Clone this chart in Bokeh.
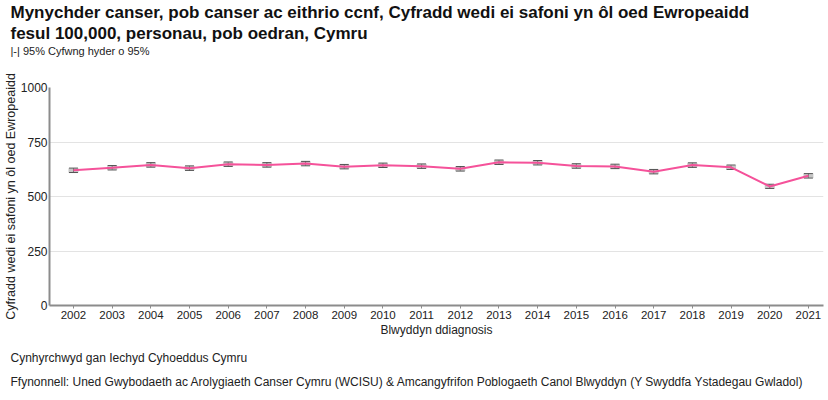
from bokeh.plotting import figure
from bokeh.models import (ColumnDataSource, Range1d, FixedTicker, Title, Whisker, TeeHead)
from bokeh.embed import file_html
from bokeh.resources import INLINE

years = list(range(2002, 2022))
rate = [620, 632, 645, 630, 648, 645, 651, 637, 643, 639, 627, 657, 655, 640, 638, 614, 644, 634, 546, 595]
lower = [610, 622, 635, 620, 638, 635, 641, 627, 633, 629, 617, 647, 645, 630, 628, 604, 634, 624, 537, 585]
upper = [630, 642, 655, 640, 658, 655, 661, 647, 653, 649, 637, 667, 665, 650, 648, 624, 654, 644, 556, 605]
y_ticks = [0, 250, 500, 750, 1000]

title1 = "Mynychder canser, pob canser ac eithrio ccnf, Cyfradd wedi ei safoni yn ôl oed Ewropeaidd"
title2 = "fesul 100,000, personau, pob oedran, Cymru"
subtitle = "|-| 95% Cyfwng hyder o 95%"
x_label = "Blwyddyn ddiagnosis"
y_label = "Cyfradd wedi ei safoni yn ôl oed Ewropeaidd"
foot1 = "Cynhyrchwyd gan Iechyd Cyhoeddus Cymru"
foot2 = "Ffynonnell: Uned Gwybodaeth ac Arolygiaeth Canser Cymru (WCISU) & Amcangyfrifon Poblogaeth Canol Blwyddyn (Y Swyddfa Ystadegau Gwladol)"

FONT = "Liberation Sans"
LEFT = 47
TX = 8 - LEFT

src = ColumnDataSource(dict(x=years, y=rate, lo=lower, hi=upper,
                            mid=[(a + b) / 2 for a, b in zip(lower, upper)],
                            h=[b - a for a, b in zip(lower, upper)]))

p = figure(width=828, height=400, output_backend="svg", toolbar_location=None,
           x_range=Range1d(2001.38, 2021.39), y_range=Range1d(0, 1000),
           min_border_left=LEFT, min_border_right=5, min_border_top=87, min_border_bottom=95)
p.outline_line_color = None
p.background_fill_color = "white"

# header stack (first added sits next to the plot frame)
p.add_layout(Title(text=" ", text_font=FONT, text_font_size="1px", standoff=27.5), "above")
p.add_layout(Title(text=subtitle, text_font=FONT, text_font_size="11px", text_font_style="normal",
                   text_color="#222222", offset=TX, standoff=-1.2), "above")
p.add_layout(Title(text=title2, text_font=FONT, text_font_size="17px", text_font_style="bold",
                   text_color="#111111", offset=TX, standoff=0.6), "above")
p.add_layout(Title(text=title1, text_font=FONT, text_font_size="17px", text_font_style="bold",
                   text_color="#111111", offset=TX, standoff=0), "above")

p.add_layout(Title(text=foot1, text_font=FONT, text_font_size="12px", text_font_style="normal",
                   text_color="#222222", offset=TX, standoff=18), "below")
p.add_layout(Title(text=foot2, text_font=FONT, text_font_size="12px", text_font_style="normal",
                   text_color="#222222", offset=TX, standoff=-2), "below")

p.rect(x="x", y="mid", width=10, width_units="screen", height="h", source=src,
       fill_color="#a0a0a0", fill_alpha=0.6, line_color=None)
w = Whisker(base="x", lower="lo", upper="hi", source=src, line_color="#333333", line_width=1,
            upper_head=TeeHead(size=9, line_color="#333333", line_width=1),
            lower_head=TeeHead(size=9, line_color="#333333", line_width=1))
p.add_layout(w)
p.line(x="x", y="y", source=src, line_color="#f5529a", line_width=2)

p.xaxis.ticker = FixedTicker(ticks=years)
p.yaxis.ticker = FixedTicker(ticks=y_ticks)
p.xgrid.grid_line_color = None
p.ygrid.grid_line_color = "#e3e3e3"
p.ygrid.grid_line_width = 1

for ax in (p.xaxis, p.yaxis):
    ax.axis_line_color = "#8c8c8c"
    ax.axis_line_width = 2
    ax.major_label_text_font = FONT
    ax.major_label_text_color = "#222222"
    ax.axis_label_text_font = FONT
    ax.axis_label_text_font_style = "normal"
    ax.axis_label_text_color = "#222222"
    ax.minor_tick_line_color = None

p.xaxis.major_label_text_font_size = "11.5px"
p.yaxis.major_label_text_font_size = "12px"
p.xaxis.axis_label_text_font_size = "12px"
p.yaxis.axis_label_text_font_size = "12.5px"

p.xaxis.major_tick_line_color = "#8c8c8c"
p.xaxis.major_tick_in = 0
p.xaxis.major_tick_out = 3
p.xaxis.major_label_standoff = 2
p.xaxis.axis_label = x_label
p.xaxis.axis_label_standoff = 1

p.yaxis.major_tick_line_color = None
p.yaxis.major_tick_in = 0
p.yaxis.major_tick_out = 0
p.yaxis.major_label_standoff = 2
p.yaxis.axis_label = y_label
p.yaxis.axis_label_standoff = 0

open("out.html", "w").write(file_html(p, INLINE))
